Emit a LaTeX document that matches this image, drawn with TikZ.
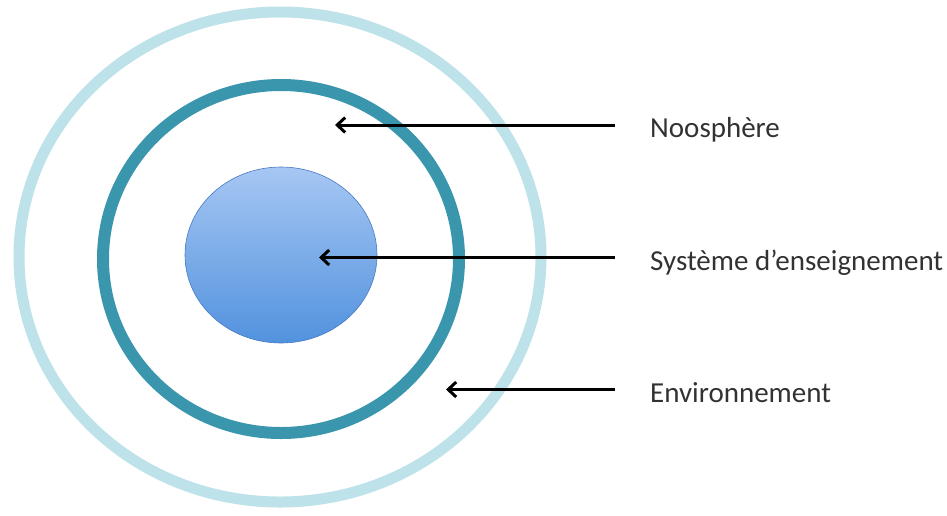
\documentclass[tikz,border=0pt]{standalone}
\usepackage{fontspec}
\setmainfont{Carlito}
\usetikzlibrary{arrows.meta}
\definecolor{anneauext}{RGB}{190,226,233}
\definecolor{anneaumil}{RGB}{58,150,172}
\definecolor{bleuhaut}{RGB}{166,199,243}
\definecolor{bleubas}{RGB}{82,146,222}
\definecolor{bordbleu}{RGB}{72,122,192}
\definecolor{texte}{RGB}{50,50,50}
\begin{document}
\begin{tikzpicture}[x=1pt,y=-1pt,
    fleche/.style={line width=3pt,-{Straight Barb[length=8pt,width=15pt]}},
    etiquette/.style={anchor=base west,inner sep=0pt,text=texte,font=\fontsize{29}{35}\selectfont}]
    \useasboundingbox (0,0) rectangle (947,515);

    %Anneaux et systeme
    \draw[anneauext,line width=11pt] (280,257) ellipse (261pt and 245pt);
    \draw[anneaumil,line width=12pt] (281,259) ellipse (178pt and 174pt);
    \shade[top color=bleuhaut,bottom color=bleubas,draw=bordbleu,line width=0.6pt] (281,255) ellipse (96pt and 88pt);

    \node[etiquette] (noo) at (650,137.5) {Noosphère};
    \node[etiquette] (sys) at (650,270) {Système d’enseignement};
    \node[etiquette] (env) at (650,402) {Environnement};

    \coordinate (noo-pt) at (335,125);
    \coordinate (sys-pt) at (319,257.5);
    \coordinate (env-pt) at (446,389.5);

    %Fleches vers les cercles
    \draw[fleche] ([xshift=-35pt,yshift=12.5pt]noo.base west) -- (noo-pt);
    \draw[fleche] ([xshift=-35pt,yshift=12.5pt]sys.base west) -- (sys-pt);
    \draw[fleche] ([xshift=-35pt,yshift=12.5pt]env.base west) -- (env-pt);

\end{tikzpicture}
\end{document}
